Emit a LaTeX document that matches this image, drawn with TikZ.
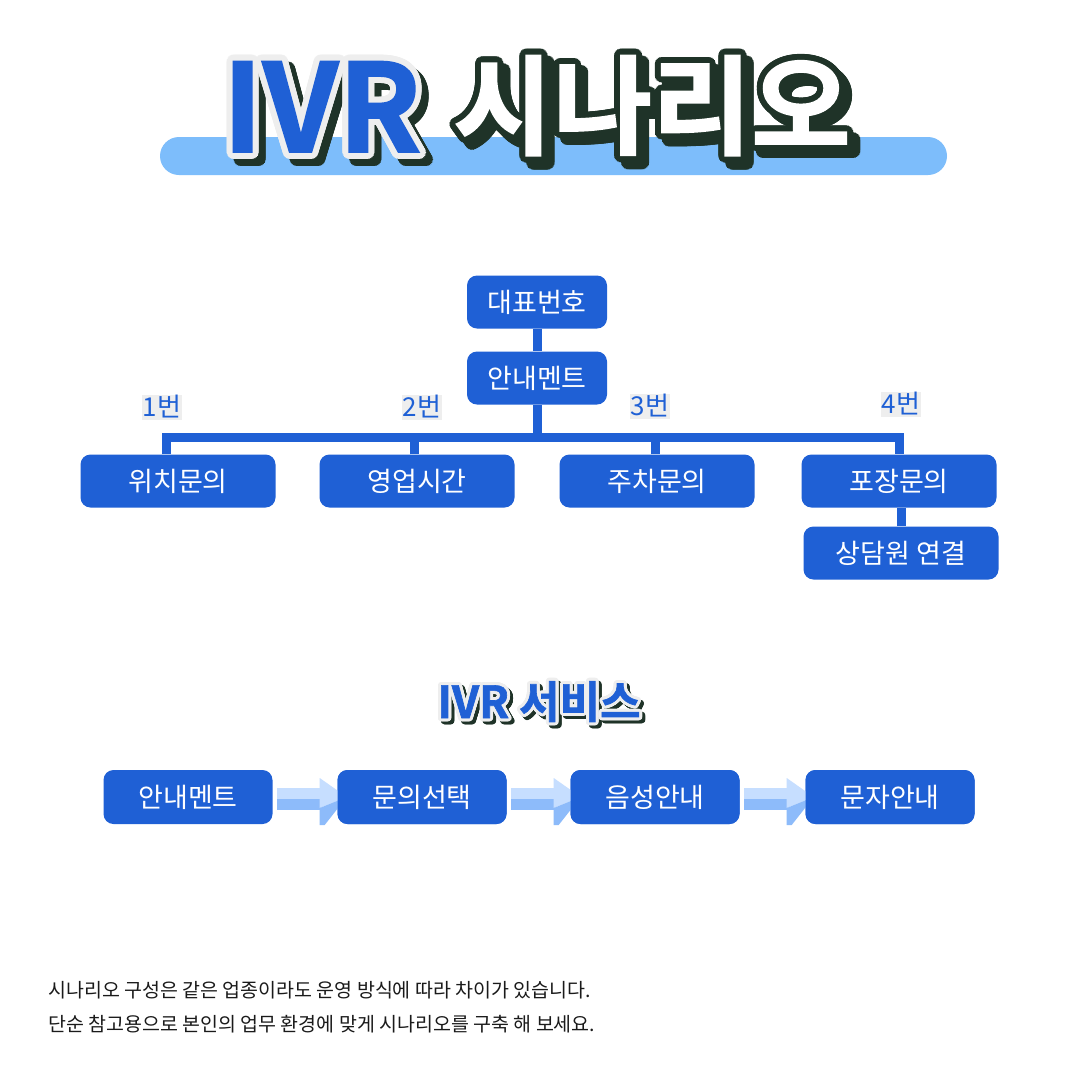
\documentclass[tikz,border=0pt]{standalone}
\usepackage{fontspec}
\newfontfamily\kr{Noto Sans CJK KR}
\newfontfamily\krh{Noto Sans CJK KR}[UprightFont=* Bold, FakeBold=1.5]
\usetikzlibrary{calc}
\definecolor{bb}{HTML}{1F60D5}
\definecolor{lbar}{HTML}{7DBDFB}
\definecolor{dk}{HTML}{1F3328}
\definecolor{lg}{HTML}{EEEEEE}
\definecolor{arL}{HTML}{C6DEFF}
\definecolor{arD}{HTML}{8DBBFA}
\definecolor{txt}{HTML}{1A1A1A}
% #1 name, #2 position, #3 text, #4 font, #5 outline colour, #6 fill colour, #7 outline radius, #8 shadow offset
\newcommand\ttlayer[8]{%
  \foreach \a in {0,15,...,345}{\node[font=#4, text=dk, anchor=base, inner sep=0pt] at ($(#2)+(\a:#7)+(#8,#8)$) {#3};}
  \foreach \a in {0,15,...,345}{\node[font=#4, text=#5, anchor=base, inner sep=0pt] at ($(#2)+(\a:#7)$) {#3};}
  \node[font=#4, text=#6, anchor=base, inner sep=0pt] (#1) at (#2) {#3};
}
\newcommand\flowarrow[2]{%
  \coordinate (#1s) at ($(#2.east)+(4,2)$);
  \fill[arL] ($(#1s)+(0,-11)$) rectangle ($(#1s)+(44,0)$);
  \fill[arD] ($(#1s)+(0,0)$) rectangle ($(#1s)+(44,11)$);
  \fill[arL] ($(#1s)+(43,-21)$) -- ($(#1s)+(70,-2)$) -- ($(#1s)+(43,9)$) -- cycle;
  \fill[arD] ($(#1s)+(43,9)$) -- ($(#1s)+(70,-2)$) -- ($(#1s)+(48,26)$) -- ($(#1s)+(43,26)$) -- cycle;
}
\begin{document}
\begin{tikzpicture}[x=1pt,y=-1pt,
  box/.style={fill=bb, rounded corners=10pt, text=white, font=\kr\fontsize{27}{30}\selectfont, inner sep=0pt, minimum height=53pt},
  treebox/.style={box, minimum width=195pt},
  topbox/.style={box, minimum width=140pt},
  flowbox/.style={box, minimum width=169pt, minimum height=54pt},
  numlab/.style={fill=lg, text=bb, font=\kr\fontsize{26}{28}\selectfont, inner sep=1pt},
  conn/.style={draw=bb, line width=9pt},
  note/.style={anchor=west, text=txt, font=\kr\fontsize{19.5}{22}\selectfont, inner sep=0pt}]
\fill[white] (0,0) rectangle (1080,1080);
\useasboundingbox (0,0) rectangle (1080,1080);

% title
\fill[lbar, rounded corners=19pt] (160,137) rectangle (947,175);
\coordinate (tivr) at (322,152);
\coordinate (tsn) at (652,146);
\ttlayer{ivr}{tivr}{IVR}{\krh\fontsize{122}{124}\selectfont}{lg}{bb}{6}{7}
\ttlayer{sn}{tsn}{시나리오}{\krh\fontsize{108}{110}\selectfont}{dk}{white}{6}{7}

% tree
\node[topbox] (top) at (537,302) {대표번호};
\node[topbox] (anmt) at (537,378) {안내멘트};
\node[treebox] (b1) at (178,481) {위치문의};
\node[treebox] (b2) at (417,481) {영업시간};
\node[treebox] (b3) at (657,481) {주차문의};
\node[treebox] (b4) at (899,481) {포장문의};
\node[treebox] (b5) at (901,553) {상담원 연결};
\coordinate (busL) at (166,437);
\coordinate (busR) at (899,437);
\draw[conn] (top.south) -- (anmt.north);
\draw[conn] (anmt.south) -- (anmt.south |- busL);
\draw[conn, line join=miter] (b1.north -| busL) -- (busL) -- (busR) -- (b4.north -| busR);
\draw[conn] (b2.north -| 414,0) -- (414,437);
\draw[conn] (b3.north -| 655,0) -- (655,437);
\draw[conn] (b5.north) -- (b5.north |- b4.south);
\node[numlab] (n1) at (162,407) {1번};
\node[numlab] (n2) at (422,407) {2번};
\node[numlab] (n3) at (650,406) {3번};
\node[numlab] (n4) at (901,404) {4번};

% IVR service
\coordinate (tsv) at (539,718);
\ttlayer{svc}{tsv}{IVR 서비스}{\krh\fontsize{44}{46}\selectfont}{lg}{bb}{3}{3}
\node[flowbox] (f1) at (188,797) {안내멘트};
\node[flowbox] (f2) at (422,797) {문의선택};
\node[flowbox] (f3) at (655,797) {음성안내};
\node[flowbox] (f4) at (890,797) {문자안내};
\flowarrow{a1}{f1}
\flowarrow{a2}{f2}
\flowarrow{a3}{f3}
\node[flowbox] at (f2) {문의선택};
\node[flowbox] at (f3) {음성안내};
\node[flowbox] at (f4) {문자안내};

% note
\node[note] (l1) at (48,990) {시나리오 구성은 같은 업종이라도 운영 방식에 따라 차이가 있습니다.};
\node[note] (l2) at (48,1024) {단순 참고용으로 본인의 업무 환경에 맞게 시나리오를 구축 해 보세요.};
\end{tikzpicture}
\end{document}
